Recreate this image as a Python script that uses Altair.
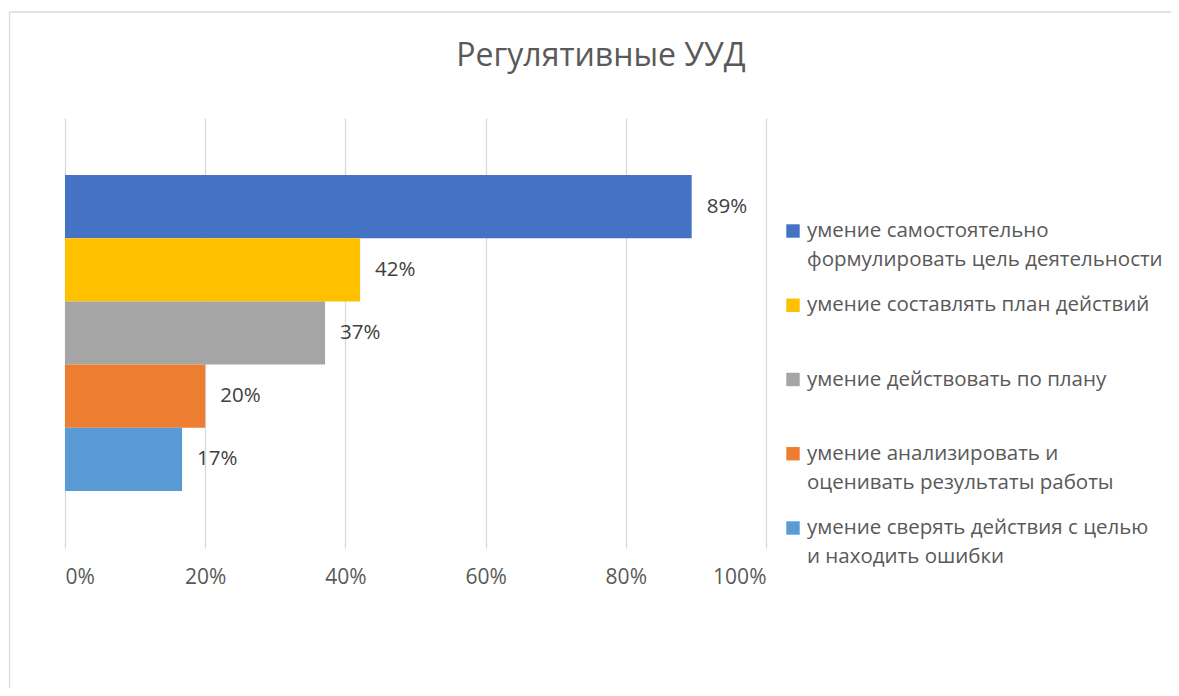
import altair as alt
import pandas as pd

# ---- data ----
title_text = "Регулятивные УУД"
series = [
    "умение самостоятельно\nформулировать цель деятельности",
    "умение составлять план действий",
    "умение действовать по плану",
    "умение анализировать и\nоценивать результаты работы",
    "умение сверять действия с целью\nи находить ошибки",
]
values = [0.894, 0.421, 0.371, 0.200, 0.167]
colors = ["#4472C4", "#FFC000", "#A5A5A5", "#ED7D31", "#5B9BD5"]
tick_values = [0, 0.2, 0.4, 0.6, 0.8, 1.0]

FONT = "Open Sans"
TEXT_GRAY = "#595959"

names = [s.replace("\n", " ") for s in series]
line1 = [s.split("\n")[0] for s in series]
line2 = [s.split("\n")[1] if "\n" in s else "" for s in series]

df = pd.DataFrame({"name": names, "value": values, "line1": line1, "line2": line2})

color_scale = alt.Scale(domain=names, range=colors)
band_y = alt.Y("name:N", sort=names, axis=None,
               scale=alt.Scale(type="band", paddingInner=0, paddingOuter=0.9))
leg_y = alt.Y("name:N", sort=names, axis=None,
              scale=alt.Scale(type="point", range=[113, 410], padding=0))

base = alt.Chart(df)

bars = base.mark_bar().encode(
    x=alt.X("value:Q",
            scale=alt.Scale(domain=[0, 1]),
            axis=alt.Axis(values=tick_values, format=".0%", grid=True,
                          gridColor="#D9D9D9", gridWidth=1.3, domain=False,
                          ticks=False, labelFontSize=21, labelColor=TEXT_GRAY,
                          labelPadding=18, title=None)),
    y=band_y,
    color=alt.Color("name:N", scale=color_scale, legend=None),
)

labels = base.mark_text(align="left", baseline="middle", dx=15, fontSize=20.5,
                        color="#404040").encode(
    x="value:Q",
    y=band_y,
    text=alt.Text("value:Q", format=".0%"),
)

leg_sq = base.mark_square(size=180, opacity=1).encode(
    x=alt.value(728),
    y=leg_y,
    color=alt.Color("name:N", scale=color_scale, legend=None),
)
leg_t1 = base.mark_text(align="left", baseline="middle", fontSize=20.5,
                        color=TEXT_GRAY).encode(
    x=alt.value(742), y=leg_y, text="line1:N")
leg_t2 = base.mark_text(align="left", baseline="middle", fontSize=20.5, dy=29,
                        color=TEXT_GRAY).encode(
    x=alt.value(742), y=leg_y, text="line2:N")

title = alt.Chart(pd.DataFrame({"t": [title_text]})).mark_text(
    fontSize=32, color=TEXT_GRAY, align="center", baseline="middle").encode(
    x=alt.value(536), y=alt.value(-62), text="t:N")

frame_src = pd.DataFrame({"a": [0]})
border_top = alt.Chart(frame_src).mark_rule(color="#D9D9D9", strokeWidth=1.3).encode(
    x=alt.value(-55.5), x2=alt.value(1106), y=alt.value(-106))
border_left = alt.Chart(frame_src).mark_rule(color="#D9D9D9", strokeWidth=1.3).encode(
    x=alt.value(-55.5), y=alt.value(-106), y2=alt.value(570))

chart = alt.layer(border_top, border_left, bars, labels, leg_sq, leg_t1, leg_t2,
                  title).resolve_scale(
    y="independent"
).properties(
    width=701, height=430,
    padding={"left": 57, "top": 110, "right": 405, "bottom": 140},
    autosize=alt.AutoSizeParams(type="none"),
).configure(font=FONT).configure_view(stroke=None)

chart.save("out.html", embed_options={"renderer": "svg", "actions": False})
